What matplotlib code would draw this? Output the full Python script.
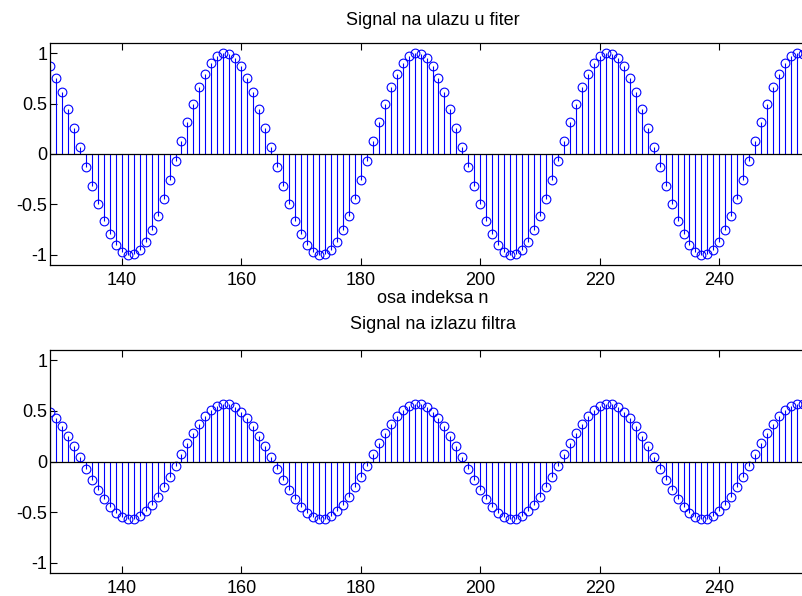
import matplotlib

matplotlib.use("Agg")

import matplotlib.pyplot as plt
import numpy as np

# sample index
n = np.arange(128, 256)

# one value per sample
x_in = [
    0.87, 0.75, 0.61, 0.45, 0.26, 0.07, -0.13, -0.32, -0.50, -0.66, -0.79, -0.90, -0.97, -1.00, -0.99, -0.95,
    -0.87, -0.75, -0.61, -0.45, -0.26, -0.07, 0.13, 0.32, 0.50, 0.66, 0.79, 0.90, 0.97, 1.00, 0.99, 0.95,
    0.87, 0.75, 0.61, 0.45, 0.26, 0.07, -0.13, -0.32, -0.50, -0.66, -0.79, -0.90, -0.97, -1.00, -0.99, -0.95,
    -0.87, -0.75, -0.61, -0.45, -0.26, -0.07, 0.13, 0.32, 0.50, 0.66, 0.79, 0.90, 0.97, 1.00, 0.99, 0.95,
    0.87, 0.75, 0.61, 0.45, 0.26, 0.07, -0.13, -0.32, -0.50, -0.66, -0.79, -0.90, -0.97, -1.00, -0.99, -0.95,
    -0.87, -0.75, -0.61, -0.45, -0.26, -0.07, 0.13, 0.32, 0.50, 0.66, 0.79, 0.90, 0.97, 1.00, 0.99, 0.95,
    0.87, 0.75, 0.61, 0.45, 0.26, 0.07, -0.13, -0.32, -0.50, -0.66, -0.79, -0.90, -0.97, -1.00, -0.99, -0.95,
    -0.87, -0.75, -0.61, -0.45, -0.26, -0.07, 0.13, 0.32, 0.50, 0.66, 0.79, 0.90, 0.97, 1.00, 0.99, 0.95,
]

y_out = [
    0.49, 0.43, 0.35, 0.25, 0.15, 0.04, -0.07, -0.18, -0.28, -0.37, -0.45, -0.51, -0.55, -0.57, -0.57, -0.54,
    -0.49, -0.43, -0.35, -0.25, -0.15, -0.04, 0.07, 0.18, 0.28, 0.37, 0.45, 0.51, 0.55, 0.57, 0.57, 0.54,
    0.49, 0.43, 0.35, 0.25, 0.15, 0.04, -0.07, -0.18, -0.28, -0.37, -0.45, -0.51, -0.55, -0.57, -0.57, -0.54,
    -0.49, -0.43, -0.35, -0.25, -0.15, -0.04, 0.07, 0.18, 0.28, 0.37, 0.45, 0.51, 0.55, 0.57, 0.57, 0.54,
    0.49, 0.43, 0.35, 0.25, 0.15, 0.04, -0.07, -0.18, -0.28, -0.37, -0.45, -0.51, -0.55, -0.57, -0.57, -0.54,
    -0.49, -0.43, -0.35, -0.25, -0.15, -0.04, 0.07, 0.18, 0.28, 0.37, 0.45, 0.51, 0.55, 0.57, 0.57, 0.54,
    0.49, 0.43, 0.35, 0.25, 0.15, 0.04, -0.07, -0.18, -0.28, -0.37, -0.45, -0.51, -0.55, -0.57, -0.57, -0.54,
    -0.49, -0.43, -0.35, -0.25, -0.15, -0.04, 0.07, 0.18, 0.28, 0.37, 0.45, 0.51, 0.55, 0.57, 0.57, 0.54,
]

titles = ["Signal na ulazu u fiter", "Signal na izlazu filtra"]
x_ticks = [140, 160, 180, 200, 220, 240]
y_ticks = [-1, -0.5, 0, 0.5, 1]

plt.rcParams["font.family"] = ["Liberation Sans", "DejaVu Sans"]
plt.rcParams["font.size"] = 13

fig = plt.figure(figsize=(8.02, 5.96), dpi=100)

# axes run past the right edge of the picture, like the cropped original
left = 50 / 802
width = 765 / 802
ax1 = fig.add_axes([left, 1 - 265 / 596, width, 222 / 596])
ax2 = fig.add_axes([left, 1 - 573 / 596, width, 223 / 596])


def draw(ax, vals, title, title_pad):
    markers, stems, base = ax.stem(n, vals, linefmt="b-", markerfmt="bo", basefmt="k-")
    markers.set_markerfacecolor("none")
    markers.set_markersize(6.3)
    markers.set_markeredgewidth(0.8)
    stems.set_linewidth(0.8)
    base.set_linewidth(0.9)
    ax.set_xlim(128, 256)
    ax.set_ylim(-1.1, 1.1)
    ax.set_xticks(x_ticks)
    ax.set_yticks(y_ticks)
    ax.set_yticklabels(["-1", "-0.5", "0", "0.5", "1"])
    ax.tick_params(direction="in", top=True, right=True, length=5, width=0.8)
    ax.tick_params(axis="x", pad=5)
    ax.tick_params(axis="y", pad=2)
    for s in ax.spines.values():
        s.set_linewidth(0.9)
    ax.set_title(title, fontsize=13, pad=title_pad)


draw(ax1, x_in, titles[0], 13)
draw(ax2, y_out, titles[1], 15)
ax1.set_xlabel("osa indeksa n", fontsize=13, labelpad=1)

plt.savefig("out.png", dpi=100)
